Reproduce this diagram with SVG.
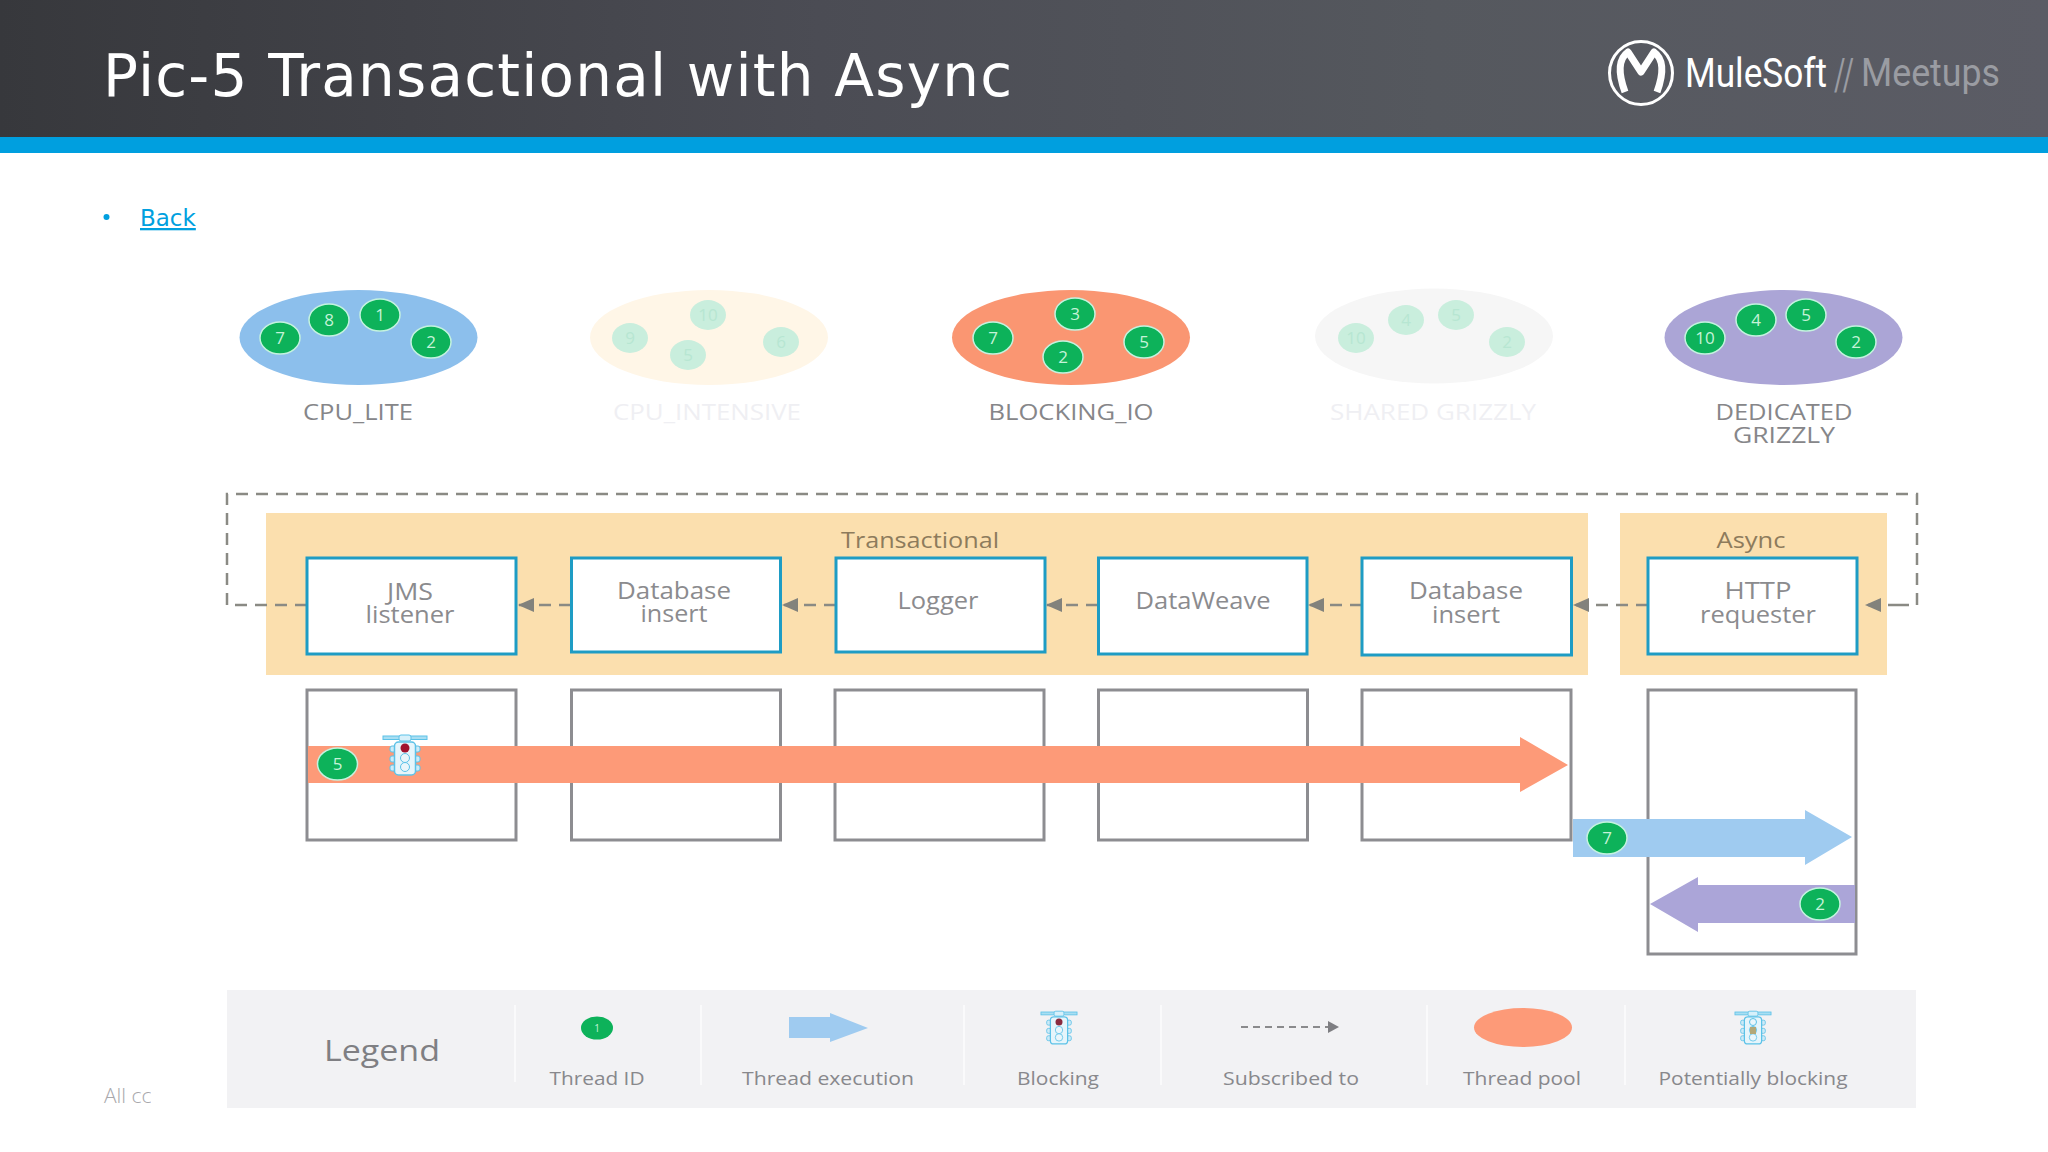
<svg xmlns="http://www.w3.org/2000/svg" xmlns:xlink="http://www.w3.org/1999/xlink" width="2048" height="1152" viewBox="0 0 2048 1152">
<style>
text{font-family:"Open Sans","Noto Sans","DejaVu Sans",sans-serif}
.title{font-family:"DejaVu Sans",sans-serif;font-size:58px;fill:#fff;letter-spacing:1.2px}
.back{font-family:"DejaVu Sans",sans-serif;font-size:23px;fill:#00a0df;text-decoration:underline}
.lab{font-size:21px;fill:#868689;text-anchor:middle}
.fadelab{font-size:21px;fill:#efeff3;text-anchor:middle}
.box{font-size:23.5px;fill:#8b8b8e;text-anchor:middle}
.sec{font-size:21.5px;fill:#8d7b5c;text-anchor:middle}
.leg{font-size:18px;fill:#88888c;text-anchor:middle}
.band{fill:#fbdfae}
.step{fill:#fff;stroke:#1e9cc4;stroke-width:3}
.lane{fill:#fff;stroke:#8d8d91;stroke-width:3}
.b{fill:#0db25a;stroke:#c4f2df;stroke-width:1.5}
.bt{font-size:17px;fill:#c5f2d8;text-anchor:middle}
.fb{fill:#c9eedd}
.fbt{font-size:17px;fill:#b7e6d2;text-anchor:middle}
.dash{fill:none;stroke:#8a8a84;stroke-width:2.5;stroke-dasharray:12 8}
.conn{fill:none;stroke:#8a8a84;stroke-width:2.5;stroke-dasharray:12 8;marker-end:url(#ah)}
.div{stroke:#fafafb;stroke-width:2}
</style>
<defs>
<linearGradient id="hdr" x1="0" x2="1" y1="0" y2="0">
<stop offset="0" stop-color="#37383c"/><stop offset="0.4" stop-color="#4b4c54"/><stop offset="0.7" stop-color="#55585e"/><stop offset="1" stop-color="#5b5c65"/>
</linearGradient>
<marker id="ah" markerUnits="userSpaceOnUse" markerWidth="18" markerHeight="18" refX="15" refY="9" orient="auto"><path d="M0 2 L16 9 L0 16 Z" fill="#82827c"/></marker>
<clipPath id="foot"><rect x="100" y="1080" width="51" height="36"/></clipPath>
<g id="tl">
<rect x="-22" y="0" width="44" height="3.5" fill="#a8def2" stroke="#5cc2e8"/>
<rect x="-6" y="-1" width="12" height="6" rx="2" fill="#d7f0fa" stroke="#5cc2e8"/>
<rect x="-15" y="10" width="30" height="6" rx="2" fill="#cdeaf7" stroke="#5cc2e8"/>
<rect x="-15" y="20" width="30" height="6" rx="2" fill="#cdeaf7" stroke="#5cc2e8"/>
<rect x="-15" y="29" width="30" height="6" rx="2" fill="#cdeaf7" stroke="#5cc2e8"/>
<rect x="-10.500" y="6" width="21" height="33" rx="4" fill="#e6f5fb" stroke="#5cc2e8" stroke-width="1.500"/>
<circle cx="0" cy="22" r="4.500" fill="#eaf6fb" stroke="#5cc2e8"/>
<circle cx="0" cy="31" r="4.500" fill="#eaf6fb" stroke="#5cc2e8"/>
</g>
</defs>
<rect width="2048" height="1152" fill="#fff"/>

<g id="header">
<rect width="2048" height="138" fill="url(#hdr)"/>
<rect y="137" width="2048" height="16" fill="#009fdf"/>
<text class="title" x="103" y="96">Pic-5 Transactional with Async</text>
<g id="logo">
<circle cx="1641" cy="73" r="31.500" fill="none" stroke="#fff" stroke-width="3"/>
<path d="M1625 92 Q1614 62 1628 52 L1641 72 L1654 52 Q1668 62 1657 92" fill="none" stroke="#fff" stroke-width="7" stroke-linejoin="round"/>
<text x="1685" y="87" font-size="40" fill="#fff" textLength="142" lengthAdjust="spacingAndGlyphs" style="font-family:Roboto,sans-serif">MuleSoft</text>
<text x="1834" y="90" font-size="44" fill="#9a9ca2" style="font-family:Roboto,sans-serif" textLength="20" lengthAdjust="spacingAndGlyphs">//</text>
<text x="1861" y="86" font-size="38" fill="#9a9ca2" textLength="139" lengthAdjust="spacingAndGlyphs" style="font-family:Roboto,sans-serif">Meetups</text>
</g>
</g>

<g id="back">
<circle cx="106.500" cy="217" r="3" fill="#009fdf"/>
<text class="back" x="140" y="226">Back</text>
</g>

<g id="pool-cpu-lite">
<ellipse cx="358.500" cy="337.500" rx="119" ry="47.500" fill="#8cbfec"/>
<ellipse class="b" cx="280" cy="338" rx="20" ry="16"/><text class="bt" x="280" y="344">7</text>
<ellipse class="b" cx="329" cy="320" rx="20" ry="16"/><text class="bt" x="329" y="326">8</text>
<ellipse class="b" cx="380" cy="315" rx="20" ry="16"/><text class="bt" x="380" y="321">1</text>
<ellipse class="b" cx="431" cy="342" rx="20" ry="16"/><text class="bt" x="431" y="348">2</text>
<text class="lab" x="358" y="420" textLength="110" lengthAdjust="spacingAndGlyphs">CPU_LITE</text>
</g>
<g id="pool-cpu-intensive">
<ellipse cx="709" cy="337.500" rx="119" ry="47.500" fill="#fff6e7"/>
<ellipse class="fb" cx="708" cy="315" rx="18" ry="15"/><text class="fbt" x="708" y="321">10</text>
<ellipse class="fb" cx="630" cy="338" rx="18" ry="15"/><text class="fbt" x="630" y="344">9</text>
<ellipse class="fb" cx="688" cy="355" rx="18" ry="15"/><text class="fbt" x="688" y="361">5</text>
<ellipse class="fb" cx="781" cy="342" rx="18" ry="15"/><text class="fbt" x="781" y="348">6</text>
<text class="fadelab" x="707" y="420" textLength="188" lengthAdjust="spacingAndGlyphs">CPU_INTENSIVE</text>
</g>
<g id="pool-blocking-io">
<ellipse cx="1071" cy="337.500" rx="119" ry="47.500" fill="#fa9672"/>
<ellipse class="b" cx="993" cy="338" rx="20" ry="16"/><text class="bt" x="993" y="344">7</text>
<ellipse class="b" cx="1075" cy="314" rx="20" ry="16"/><text class="bt" x="1075" y="320">3</text>
<ellipse class="b" cx="1144" cy="342" rx="20" ry="16"/><text class="bt" x="1144" y="348">5</text>
<ellipse class="b" cx="1063" cy="357" rx="20" ry="16"/><text class="bt" x="1063" y="363">2</text>
<text class="lab" x="1071" y="420" textLength="165" lengthAdjust="spacingAndGlyphs">BLOCKING_IO</text>
</g>
<g id="pool-shared-grizzly">
<ellipse cx="1434" cy="336" rx="119" ry="47.500" fill="#f6f6f6"/>
<ellipse class="fb" cx="1356" cy="338" rx="18" ry="15"/><text class="fbt" x="1356" y="344">10</text>
<ellipse class="fb" cx="1406" cy="320" rx="18" ry="15"/><text class="fbt" x="1406" y="326">4</text>
<ellipse class="fb" cx="1456" cy="315" rx="18" ry="15"/><text class="fbt" x="1456" y="321">5</text>
<ellipse class="fb" cx="1507" cy="342" rx="18" ry="15"/><text class="fbt" x="1507" y="348">2</text>
<text class="fadelab" x="1433" y="420" textLength="206" lengthAdjust="spacingAndGlyphs">SHARED GRIZZLY</text>
</g>
<g id="pool-dedicated-grizzly">
<ellipse cx="1783.500" cy="337.500" rx="119" ry="47.500" fill="#aba5d6"/>
<ellipse class="b" cx="1705" cy="338" rx="20" ry="16"/><text class="bt" x="1705" y="344">10</text>
<ellipse class="b" cx="1756" cy="320" rx="20" ry="16"/><text class="bt" x="1756" y="326">4</text>
<ellipse class="b" cx="1806" cy="315" rx="20" ry="16"/><text class="bt" x="1806" y="321">5</text>
<ellipse class="b" cx="1856" cy="342" rx="20" ry="16"/><text class="bt" x="1856" y="348">2</text>
<text class="lab" x="1784" y="420" textLength="137" lengthAdjust="spacingAndGlyphs">DEDICATED</text><text class="lab" x="1784" y="443" textLength="102" lengthAdjust="spacingAndGlyphs">GRIZZLY</text>
</g>

<g id="scope-transactional">
<rect class="band" x="266" y="513" width="1322" height="162"/>
<text class="sec" x="920" y="548" textLength="158" lengthAdjust="spacingAndGlyphs">Transactional</text>
</g>
<g id="scope-async">
<rect class="band" x="1620" y="513" width="267" height="162"/>
<text class="sec" x="1751" y="548" textLength="69" lengthAdjust="spacingAndGlyphs">Async</text>
</g>

<g id="connectors">
<polyline class="dash" points="307,605 227,605 227,494 1917,494 1917,605 1900,605"/>
<line class="conn" x1="1900" y1="605" x2="1866" y2="605"/>
<line class="conn" x1="1648" y1="605" x2="1574" y2="605"/>
<line class="conn" x1="1362" y1="605" x2="1309" y2="605"/>
<line class="conn" x1="1098" y1="605" x2="1047" y2="605"/>
<line class="conn" x1="836" y1="605" x2="783" y2="605"/>
<line class="conn" x1="571" y1="605" x2="519" y2="605"/>
</g>

<g id="step-jms"><rect class="step" x="307" y="558" width="209" height="96"/><text class="box" x="410" y="600" textLength="46" lengthAdjust="spacingAndGlyphs">JMS</text><text class="box" x="410" y="623" textLength="89" lengthAdjust="spacingAndGlyphs">listener</text></g>
<g id="step-db1"><rect class="step" x="571.500" y="558" width="209" height="94"/><text class="box" x="674" y="599" textLength="114" lengthAdjust="spacingAndGlyphs">Database</text><text class="box" x="674" y="622" textLength="67" lengthAdjust="spacingAndGlyphs">insert</text></g>
<g id="step-logger"><rect class="step" x="836" y="558" width="209" height="94"/><text class="box" x="938" y="609" textLength="81" lengthAdjust="spacingAndGlyphs">Logger</text></g>
<g id="step-dataweave"><rect class="step" x="1098.500" y="558" width="208.500" height="96"/><text class="box" x="1203" y="609" textLength="135" lengthAdjust="spacingAndGlyphs">DataWeave</text></g>
<g id="step-db2"><rect class="step" x="1362" y="558" width="209.500" height="97"/><text class="box" x="1466" y="599" textLength="114" lengthAdjust="spacingAndGlyphs">Database</text><text class="box" x="1466" y="623" textLength="68" lengthAdjust="spacingAndGlyphs">insert</text></g>
<g id="step-http"><rect class="step" x="1648" y="558" width="209" height="96"/><text class="box" x="1758" y="599" textLength="67" lengthAdjust="spacingAndGlyphs">HTTP</text><text class="box" x="1758" y="623" textLength="116" lengthAdjust="spacingAndGlyphs">requester</text></g>

<g id="lanes">
<rect class="lane" x="307" y="690" width="209" height="150"/>
<rect class="lane" x="571.500" y="690" width="209" height="150"/>
<rect class="lane" x="835" y="690" width="209" height="150"/>
<rect class="lane" x="1098.500" y="690" width="209" height="150"/>
<rect class="lane" x="1362" y="690" width="209" height="150"/>
<rect class="lane" x="1648" y="690" width="208" height="264"/>
</g>

<g id="thread-blocking">
<path d="M308 746 H1520 V737 L1568 765 L1520 792 V783 H308 Z" fill="#fd9a78"/>
<ellipse class="b" cx="337.500" cy="764" rx="20" ry="16"/><text class="bt" x="337.500" y="770">5</text>
<use xlink:href="#tl" href="#tl" x="405" y="736"/>
<circle cx="405" cy="748" r="4.500" fill="#a0122e"/>
</g>
<g id="thread-cpu">
<path d="M1573 819 H1805 V810 L1852 837 L1805 865 V857 H1573 Z" fill="#9fcbf0"/>
<ellipse class="b" cx="1607" cy="838" rx="20" ry="16"/><text class="bt" x="1607" y="844">7</text>
</g>
<g id="thread-dedicated">
<path d="M1855 885 H1698 V877 L1650 904 L1698 932 V923 H1855 Z" fill="#aba5d8"/>
<ellipse class="b" cx="1820" cy="904" rx="20" ry="16"/><text class="bt" x="1820" y="910">2</text>
</g>

<g id="legend">
<rect x="227" y="990" width="1689" height="118" fill="#f2f2f4"/>
<line class="div" x1="515" y1="1005" x2="515" y2="1082"/>
<line class="div" x1="701" y1="1005" x2="701" y2="1085"/>
<line class="div" x1="964" y1="1005" x2="964" y2="1085"/>
<line class="div" x1="1161" y1="1005" x2="1161" y2="1085"/>
<line class="div" x1="1427" y1="1005" x2="1427" y2="1085"/>
<line class="div" x1="1625" y1="1005" x2="1625" y2="1085"/>
<text x="382" y="1061" font-size="30" fill="#7f7f83" text-anchor="middle" textLength="116" lengthAdjust="spacingAndGlyphs">Legend</text>
<ellipse cx="597" cy="1028" rx="16" ry="11.500" fill="#0db25a"/><text x="597" y="1032" font-size="10" fill="#c5f2d8" text-anchor="middle">1</text>
<text class="leg" x="597" y="1085" textLength="95" lengthAdjust="spacingAndGlyphs">Thread ID</text>
<path d="M789 1017 H830 V1013 L868 1028 L830 1042 V1038 H789 Z" fill="#9fcbf0"/>
<text class="leg" x="828" y="1085" textLength="172" lengthAdjust="spacingAndGlyphs">Thread execution</text>
<use xlink:href="#tl" href="#tl" transform="translate(1059 1012) scale(.82)"/>
<circle cx="1059" cy="1022" r="3.500" fill="#8a2a3e"/>
<text class="leg" x="1058" y="1085" textLength="82" lengthAdjust="spacingAndGlyphs">Blocking</text>
<line x1="1241" y1="1027" x2="1330" y2="1027" stroke="#8a8a8c" stroke-width="2" stroke-dasharray="7 5"/>
<path d="M1328 1021 L1339 1027 L1328 1033 Z" fill="#7e7e82"/>
<text class="leg" x="1291" y="1085" textLength="136" lengthAdjust="spacingAndGlyphs">Subscribed to</text>
<ellipse cx="1523" cy="1027.500" rx="49" ry="19.500" fill="#fd9a78"/>
<text class="leg" x="1522" y="1085" textLength="118" lengthAdjust="spacingAndGlyphs">Thread pool</text>
<use xlink:href="#tl" href="#tl" transform="translate(1753 1012) scale(.82)"/>
<circle cx="1753" cy="1022" r="3.500" fill="#eaf6fb" stroke="#5cc2e8"/>
<rect x="1750" y="1027" width="6" height="7" fill="#b3a878"/>
<text class="leg" x="1753" y="1085" textLength="189" lengthAdjust="spacingAndGlyphs">Potentially blocking</text>
</g>

<g id="footer" clip-path="url(#foot)">
<text x="104" y="1103" font-size="21" font-weight="300" fill="#a8a8ac">All cc</text>
</g>
</svg>
